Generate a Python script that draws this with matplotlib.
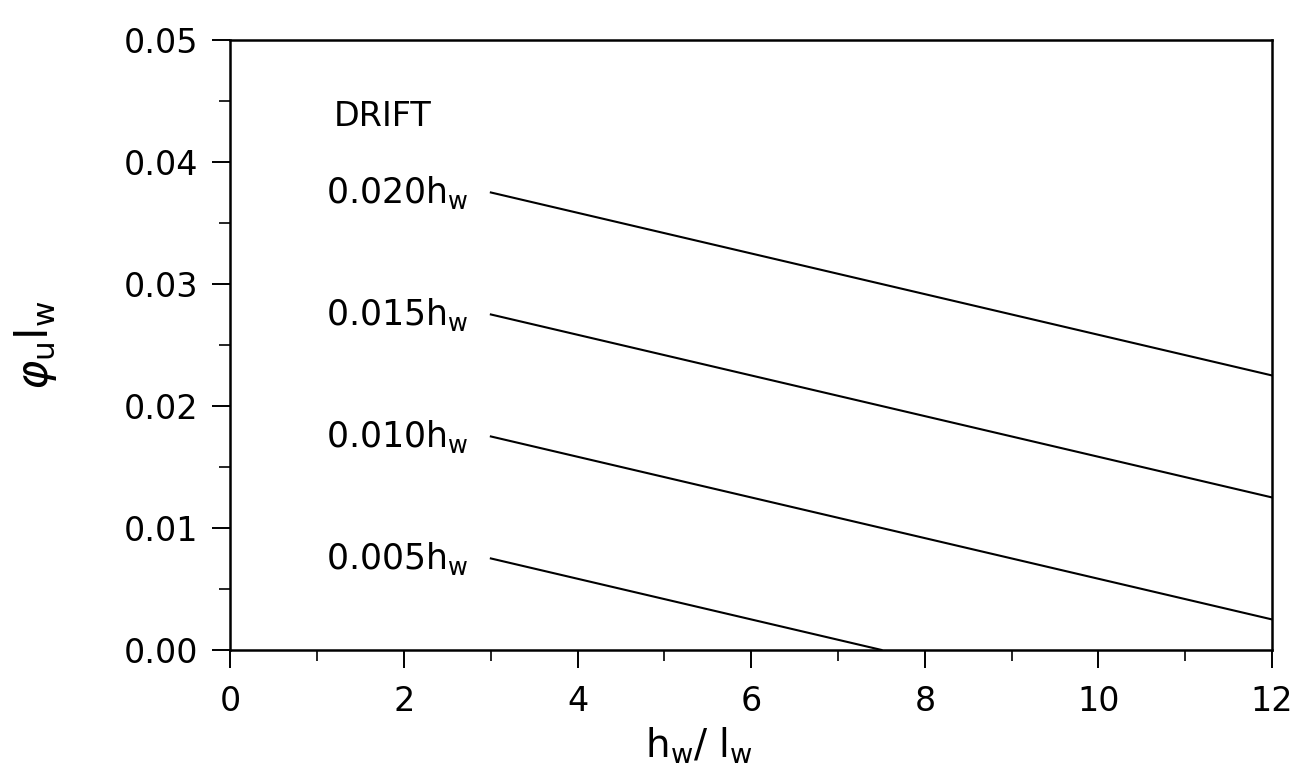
import matplotlib.pyplot as plt
from matplotlib.ticker import MultipleLocator

# drift levels and the straight lines
drift_labels = ["0.020", "0.015", "0.010", "0.005"]
line_x = [[3.0, 12.0], [3.0, 12.0], [3.0, 12.0], [3.0, 7.5]]
line_y = [[0.0375, 0.0225], [0.0275, 0.0125], [0.0175, 0.0025], [0.0075, 0.0]]

x_ticks = [0, 2, 4, 6, 8, 10, 12]
y_ticks = [0.00, 0.01, 0.02, 0.03, 0.04, 0.05]

plt.rcParams["font.family"] = ["DejaVu Sans"]
plt.rcParams["mathtext.fontset"] = "dejavusans"

fig = plt.figure(figsize=(13.02, 7.84), dpi=100)
ax = fig.add_axes([0.177, 0.171, 0.800, 0.778])

for label, xs, ys in zip(drift_labels, line_x, line_y):
    ax.plot(xs, ys, color="black", linewidth=1.5)
    ax.text(
        2.75,
        ys[0],
        label + r"h$_{\mathregular{w}}$",
        ha="right",
        va="center",
        fontsize=25,
        color="black",
    )

ax.text(1.75, 0.0437, "DRIFT", ha="center", va="center", fontsize=24)

ax.set_xlim(0, 12)
ax.set_ylim(0, 0.05)
ax.set_xticks(x_ticks)
ax.set_yticks(y_ticks)
ax.set_yticklabels([f"{v:.2f}" for v in y_ticks])
ax.xaxis.set_minor_locator(MultipleLocator(1))
ax.yaxis.set_minor_locator(MultipleLocator(0.005))

ax.tick_params(axis="both", which="major", direction="out", length=13,
               width=1.4, labelsize=24)
ax.tick_params(axis="both", which="minor", direction="out", length=8,
               width=1.2)
ax.tick_params(axis="x", which="major", pad=12)
ax.tick_params(axis="y", which="major", pad=10)

for spine in ax.spines.values():
    spine.set_linewidth(1.8)

ax.set_xlabel(r"h$_{\mathregular{w}}$/ l$_{\mathregular{w}}$", fontsize=28)
ax.xaxis.set_label_coords(0.45, -0.125)
ax.set_ylabel(r"$\varphi_{\mathregular{u}}$l$_{\mathregular{w}}$", fontsize=32)
ax.yaxis.set_label_coords(-0.165, 0.5)

fig.savefig("out.png", dpi=100)
